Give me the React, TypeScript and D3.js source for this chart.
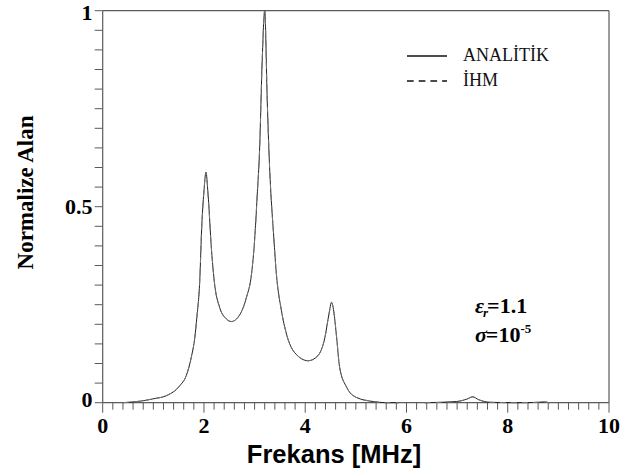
import React from "react";
import * as d3 from "d3";

const freq = [0.40, 0.60, 0.80, 1.00, 1.26, 1.52, 1.65, 1.75, 1.82, 1.86, 1.92, 1.95, 2.00, 2.04, 2.08, 2.15, 2.21, 2.31, 2.44, 2.54, 2.71, 2.84, 2.94, 3.00, 3.05, 3.10, 3.15, 3.20, 3.25, 3.30, 3.33, 3.37, 3.43, 3.53, 3.63, 3.79, 4.06, 4.25, 4.39, 4.47, 4.52, 4.57, 4.62, 4.68, 4.82, 5.01, 5.34, 5.61, 5.85, 6.10, 6.36, 6.99, 7.19, 7.31, 7.42, 7.65, 8.20, 8.60, 8.70, 8.83];
const analitik = [0.000, 0.002, 0.005, 0.010, 0.018, 0.043, 0.069, 0.116, 0.167, 0.218, 0.320, 0.430, 0.540, 0.588, 0.533, 0.388, 0.303, 0.243, 0.214, 0.207, 0.225, 0.269, 0.329, 0.414, 0.525, 0.650, 0.872, 1.000, 0.770, 0.590, 0.516, 0.439, 0.329, 0.235, 0.175, 0.128, 0.107, 0.120, 0.167, 0.227, 0.256, 0.227, 0.167, 0.090, 0.039, 0.0135, 0.003, 0.000, 0.000, NaN, 0.000, 0.003, 0.009, 0.015, 0.008, 0.001, 0.000, 0.001, 0.002, 0.000];
const ihm = [0.000, 0.002, 0.005, 0.010, 0.018, 0.043, 0.069, 0.116, 0.167, 0.218, 0.320, 0.430, 0.540, 0.588, 0.533, 0.388, 0.303, 0.243, 0.214, 0.207, 0.225, 0.269, 0.329, 0.414, 0.525, 0.650, 0.872, 1.000, 0.770, 0.590, 0.516, 0.439, 0.329, 0.235, 0.175, 0.128, 0.107, 0.120, 0.167, 0.227, 0.256, 0.227, 0.167, 0.090, 0.039, 0.0135, 0.003, 0.000, 0.000, NaN, 0.000, 0.003, 0.009, 0.015, 0.008, 0.001, 0.000, 0.001, 0.002, 0.000];

const xMajorTicks = [0, 2, 4, 6, 8, 10];
const yTickLabels = [
  { v: 0, label: "0" },
  { v: 0.5, label: "0.5" },
  { v: 1, label: "1" },
];
const legendItems = ["ANALİTİK", "İHM"];

const W = 630, H = 475;
const L = 102.7, R = 609, T = 10.7, B = 402.7;
const AX = "#5a5a5a";
const SERIF = "'Liberation Serif', 'Times New Roman', serif";
const SANS = "'Liberation Sans', Arial, sans-serif";

export default function App() {
  const x = d3.scaleLinear().domain([0, 10]).range([L, R]);
  const y = d3.scaleLinear().domain([0, 1]).range([B, T]);

  const mk = (vals: number[]) =>
    d3
      .line<number>()
      .defined((v) => !isNaN(v))
      .x((_, i) => x(freq[i]))
      .y((v) => y(v))
      .curve(d3.curveMonotoneX)(vals) || "";

  const xMinor = d3.range(0, 51).map((i) => i * 0.2);
  const yMinor = d3.range(0, 21).map((i) => i * 0.05);

  return (
    <svg
      width={W}
      height={H}
      style={{ position: "absolute", left: 0, top: 0, background: "#fff" }}
    >
      {/* frame */}
      <line x1={L} x2={R} y1={T} y2={T} stroke={AX} strokeWidth={1.2} />
      <line x1={R} x2={R} y1={T} y2={B} stroke={AX} strokeWidth={1.2} />
      <line x1={L} x2={L} y1={T} y2={B} stroke={AX} strokeWidth={1.2} />
      <line x1={L} x2={R} y1={B} y2={B} stroke={AX} strokeWidth={1.2} />
      {/* x ticks */}
      {xMinor.map((t, i) => {
        const major = i % 10 === 0;
        return (
          <line
            key={"xt" + i}
            x1={x(t)}
            x2={x(t)}
            y1={B}
            y2={B + (major ? 10 : 7)}
            stroke={AX}
            strokeWidth={1}
          />
        );
      })}
      {/* y ticks */}
      {yMinor.map((t, i) => (
        <line
          key={"yt" + i}
          x1={L - 8}
          x2={L}
          y1={y(t)}
          y2={y(t)}
          stroke={AX}
          strokeWidth={1}
        />
      ))}
      {/* x tick labels */}
      {xMajorTicks.map((t) => (
        <text
          key={"xl" + t}
          x={x(t)}
          y={433}
          textAnchor="middle"
          fontFamily={SERIF}
          fontWeight="bold"
          fontSize={22}
        >
          {t}
        </text>
      ))}
      {/* y tick labels */}
      {yTickLabels.map((d) => (
        <text
          key={"yl" + d.label}
          x={92.5}
          y={y(d.v) + (d.v === 0 ? 4.5 : d.v === 1 ? 9 : 7.5)}
          textAnchor="end"
          fontFamily={SERIF}
          fontWeight="bold"
          fontSize={22}
        >
          {d.label}
        </text>
      ))}
      {/* axis titles */}
      <text
        x={334}
        y={463}
        textAnchor="middle"
        fontFamily={SANS}
        fontWeight="bold"
        fontSize={25.5}
      >
        Frekans [MHz]
      </text>
      <text
        transform={`translate(33,192.5) rotate(-90)`}
        textAnchor="middle"
        fontFamily={SERIF}
        fontWeight="bold"
        fontSize={23}
      >
        Normalize Alan
      </text>
      {/* curves */}
      <path d={mk(analitik)} fill="none" stroke="#222" strokeWidth={1} />
      <path
        d={mk(ihm)}
        fill="none"
        stroke="#777"
        strokeWidth={1}
        strokeDasharray="6,5"
      />
      {/* legend */}
      <line x1={407} x2={447} y1={56} y2={56} stroke="#111" strokeWidth={1.6} />
      <line
        x1={407}
        x2={447}
        y1={81}
        y2={81}
        stroke="#111"
        strokeWidth={1.6}
        strokeDasharray="6.7,5"
      />
      {legendItems.map((s, i) => (
        <text
          key={s}
          x={463}
          y={61 + i * 24.5}
          fontFamily={SERIF}
          fontSize={18}
          fill="#111"
        >
          {s}
        </text>
      ))}
      {/* annotation */}
      <text x={475} y={313} fontFamily={SERIF} fontWeight="bold" fontSize={22}>
        <tspan fontStyle="italic">ε</tspan>
        <tspan fontStyle="italic" fontSize={13} dy={4} dx={-1}>
          r
        </tspan>
        <tspan dy={-4} dx={-1}>=1.1</tspan>
      </text>
      <text x={475} y={342} fontFamily={SERIF} fontWeight="bold" fontSize={22}>
        <tspan fontStyle="italic">σ</tspan>
        <tspan dx={-1}>=10</tspan>
        <tspan fontSize={13} dy={-9}>-5</tspan>
      </text>
    </svg>
  );
}
